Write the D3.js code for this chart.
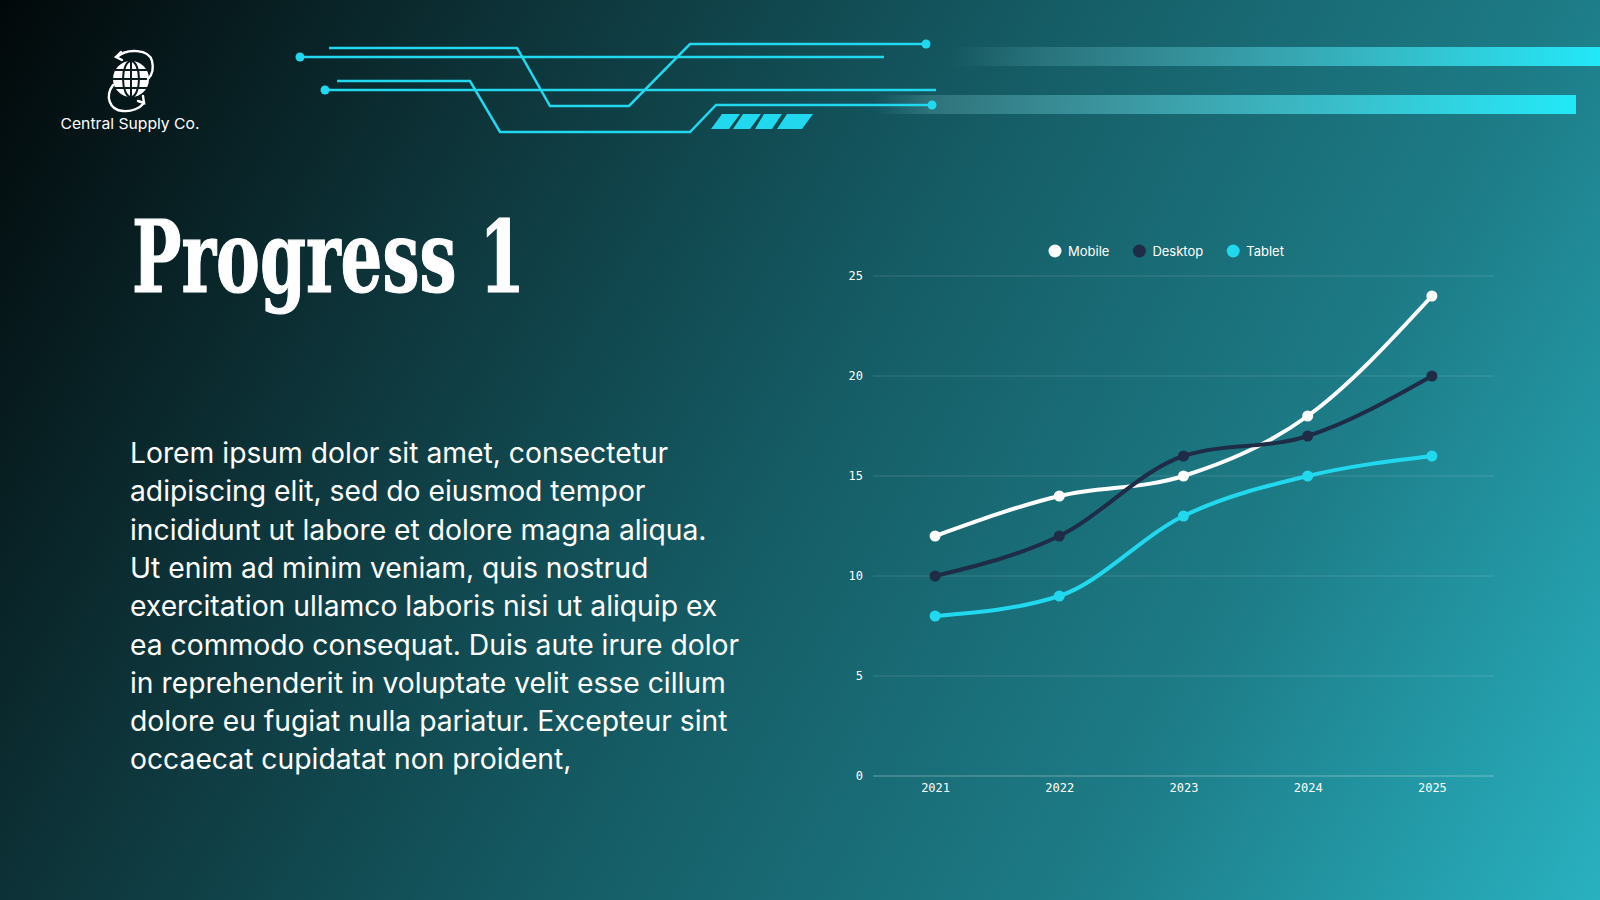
<!DOCTYPE html>
<html lang="en">
<head>
<meta charset="UTF-8">
<title>Progress 1</title>
<script src="https://d3js.org/d3.v7.min.js"></script>
<style>
  body { margin: 0; background: #071417; overflow: hidden; }
  svg { display: block; }
  .title { font-family: "DejaVu Serif", "Liberation Serif", serif; font-weight: bold; font-stretch: condensed; fill: #fff; stroke: #fff; stroke-width: 1.2px; }
  .body-text { font-family: Inter, "Noto Sans", sans-serif; fill: #fff; }
  .brand { font-family: Inter, "Noto Sans", sans-serif; font-size: 15px; fill: #fff; }
  .tick-label { font-family: "DejaVu Sans Mono", "Liberation Mono", monospace; font-size: 12px; fill: #fff; }
  .legend-label { font-family: Inter, "Noto Sans", sans-serif; font-size: 13px; fill: #fff; }
</style>
</head>
<body>
<svg id="slide" width="1600" height="900"></svg>
<script>
const years = ["2021", "2022", "2023", "2024", "2025"];
const mobile = [12, 14, 15, 18, 24];
const desktop = [10, 12, 16, 17, 20];
const tablet = [8, 9, 13, 15, 16];
const yTicks = [0, 5, 10, 15, 20, 25];
const seriesNames = ["Mobile", "Desktop", "Tablet"];
const seriesColors = ["#ffffff", "#1e2c47", "#22d8ee"];

const titleText = "Progress 1";
const brandText = "Central Supply Co.";
const bodyLines = [
  "Lorem ipsum dolor sit amet, consectetur",
  "adipiscing elit, sed do eiusmod tempor",
  "incididunt ut labore et dolore magna aliqua.",
  "Ut enim ad minim veniam, quis nostrud",
  "exercitation ullamco laboris nisi ut aliquip ex",
  "ea commodo consequat. Duis aute irure dolor",
  "in reprehenderit in voluptate velit esse cillum",
  "dolore eu fugiat nulla pariatur. Excepteur sint",
  "occaecat cupidatat non proident,"
];

const W = 1600, H = 900;
const svg = d3.select("#slide");
const defs = svg.append("defs");

// background gradient
const bg = defs.append("linearGradient").attr("id", "bg")
  .attr("gradientUnits", "userSpaceOnUse")
  .attr("x1", 0).attr("y1", 0).attr("x2", W).attr("y2", H);
[[0, "#020809"], [0.25, "#0d3338"], [0.5, "#155c65"], [0.75, "#1d7c87"], [1, "#29b1c0"]]
  .forEach(([o, c]) => bg.append("stop").attr("offset", o).attr("stop-color", c));
svg.append("rect").attr("width", W).attr("height", H).attr("fill", "url(#bg)");

// top-right glowing bars
const g1 = defs.append("linearGradient").attr("id", "bar1");
g1.append("stop").attr("offset", 0).attr("stop-color", "#7fd0d8").attr("stop-opacity", 0);
g1.append("stop").attr("offset", 0.15).attr("stop-color", "#6fc3cc").attr("stop-opacity", 0.22);
g1.append("stop").attr("offset", 1).attr("stop-color", "#22e8f8");
const g2 = defs.append("linearGradient").attr("id", "bar2");
g2.append("stop").attr("offset", 0).attr("stop-color", "#7fc8cf").attr("stop-opacity", 0);
g2.append("stop").attr("offset", 0.08).attr("stop-color", "#7fc8cf").attr("stop-opacity", 0.25);
g2.append("stop").attr("offset", 1).attr("stop-color", "#22e8f8");
svg.append("rect").attr("x", 950).attr("y", 47).attr("width", 650).attr("height", 19).attr("fill", "url(#bar1)");
svg.append("rect").attr("x", 875).attr("y", 95).attr("width", 701).attr("height", 19).attr("fill", "url(#bar2)");

// circuit decoration
const cyan = "#22d8ee";
const deco = svg.append("g").attr("fill", "none").attr("stroke", cyan).attr("stroke-width", 2.5);
const traces = [
  [[329, 48], [517, 48], [550, 106], [629, 106], [690, 44], [926, 44]],
  [[300, 57], [884, 57]],
  [[337, 81], [470, 81], [500, 132], [690, 132], [716, 105], [932, 105]],
  [[325, 90], [936, 90]]
];
deco.selectAll("path").data(traces).join("path").attr("d", d3.line());
svg.selectAll("circle.node")
  .data([[926, 44], [300, 57], [932, 105], [325, 90]])
  .join("circle").attr("class", "node")
  .attr("cx", d => d[0]).attr("cy", d => d[1]).attr("r", 4.5).attr("fill", cyan);
const slants = [[722, 740, 729, 711], [743, 761, 750, 733], [764, 782, 772, 755], [787, 813, 802, 777]];
svg.selectAll("polygon.slant").data(slants).join("polygon").attr("class", "slant")
  .attr("points", d => `${d[0]},114 ${d[1]},114 ${d[2]},129 ${d[3]},129`)
  .attr("fill", cyan);

// logo
const logo = svg.append("g").attr("transform", "translate(131,79)");
logo.append("circle").attr("r", 18).attr("fill", "#fff");
const grid = logo.append("g").attr("stroke", "#0a1a1d").attr("stroke-width", 2).attr("fill", "none");
grid.append("ellipse").attr("rx", 8).attr("ry", 18);
grid.append("line").attr("x1", 0).attr("x2", 0).attr("y1", -18).attr("y2", 18);
[-9, 0, 9].forEach(y => grid.append("line").attr("x1", -18).attr("x2", 18).attr("y1", y).attr("y2", y));
const arrows = logo.append("g").attr("stroke", "#fff").attr("stroke-width", 2.4).attr("fill", "none")
  .attr("stroke-linecap", "round");
arrows.append("path").attr("d", "M-14,-22 C-4,-31 18,-30 21,-18 C23,-10 21,-4 17,0");
arrows.append("path").attr("d", "M-10,-27 L-15,-22 L-9,-19");
arrows.append("path").attr("d", "M-18,6 C-26,17 -22,31 -8,32 C1,33 9,29 13,24");
arrows.append("path").attr("d", "M7,22 L13,24 L12,17");
svg.append("text").attr("class", "brand").attr("x", 130).attr("y", 129)
  .attr("text-anchor", "middle").attr("textLength", 139).attr("lengthAdjust", "spacingAndGlyphs")
  .text(brandText);

// title
svg.append("text").attr("class", "title")
  .attr("x", 132).attr("y", 292).attr("font-size", 100)
  .attr("textLength", 393).attr("lengthAdjust", "spacingAndGlyphs")
  .text(titleText);

// body paragraph
const body = svg.append("g").attr("class", "body-text");
const probe = body.append("text").attr("font-size", 25).text(bodyLines[2]);
const fs = 25 * 577 / probe.node().getComputedTextLength();
probe.remove();
body.selectAll("text").data(bodyLines).join("text")
  .attr("x", 130).attr("y", (d, i) => 463 + i * 38.3)
  .attr("font-size", fs)
  .text(d => d);

// chart
const x = d3.scalePoint().domain(years).range([873, 1494]).padding(0.5);
const y = d3.scaleLinear().domain([0, 25]).range([776, 276]);

const gridG = svg.append("g");
gridG.selectAll("line").data(yTicks).join("line")
  .attr("x1", 873).attr("x2", 1494)
  .attr("y1", d => y(d)).attr("y2", d => y(d))
  .attr("stroke", "#ffffff")
  .attr("stroke-opacity", d => d === 0 ? 0.35 : 0.14)
  .attr("stroke-width", 1);

const yAxis = svg.append("g").attr("transform", "translate(873,0)")
  .call(d3.axisLeft(y).tickValues(yTicks).tickSize(0).tickPadding(10));
yAxis.select(".domain").remove();
yAxis.selectAll("text").attr("class", "tick-label").attr("fill", null);

const xAxis = svg.append("g").attr("transform", "translate(0,776)")
  .call(d3.axisBottom(x).tickSize(0).tickPadding(7));
xAxis.select(".domain").remove();
xAxis.selectAll("text").attr("class", "tick-label").attr("fill", null);

const series = [mobile, desktop, tablet].map((values, i) => ({
  name: seriesNames[i], color: seriesColors[i],
  points: values.map((v, j) => ({ year: years[j], value: v }))
}));

const line = d3.line().x(d => x(d.year)).y(d => y(d.value)).curve(d3.curveMonotoneX);

const sG = svg.append("g").selectAll("g").data(series).join("g");
sG.append("path")
  .attr("d", d => line(d.points))
  .attr("fill", "none").attr("stroke", d => d.color).attr("stroke-width", 4);
sG.selectAll("circle").data(d => d.points.map(p => ({ ...p, color: d.color }))).join("circle")
  .attr("cx", d => x(d.year)).attr("cy", d => y(d.value)).attr("r", 5.5)
  .attr("fill", d => d.color);

// legend
const legend = svg.append("g").attr("transform", "translate(0,251)");
let lx = 1055;
series.forEach(s => {
  const item = legend.append("g").attr("transform", `translate(${lx},0)`);
  item.append("circle").attr("r", 6.5).attr("fill", s.color);
  const t = item.append("text").attr("class", "legend-label").attr("x", 13).attr("dy", "0.35em").text(s.name);
  lx += 13 + t.node().getComputedTextLength() + 30;
});
</script>
</body>
</html>
